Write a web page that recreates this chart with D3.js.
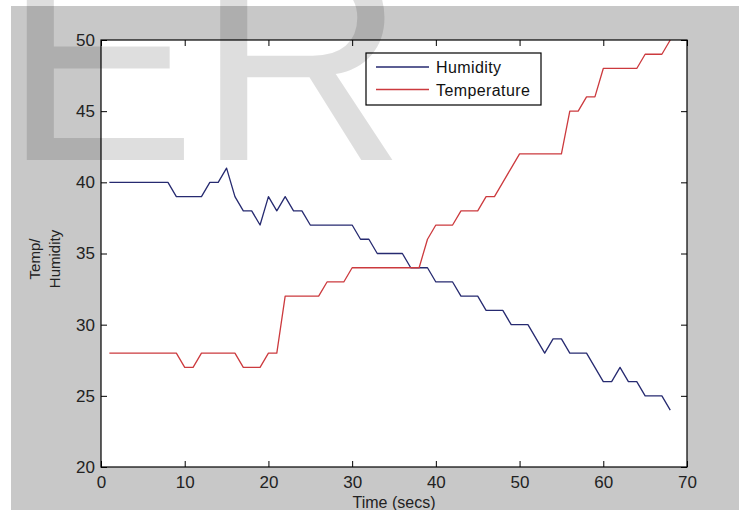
<!DOCTYPE html>
<html><head><meta charset="utf-8">
<script src="https://cdn.jsdelivr.net/npm/d3@7"></script>
<style>
html,body{margin:0;padding:0;background:#fff;}
svg{display:block;}
text{font-family:"Liberation Sans",Arial,sans-serif;}
</style></head>
<body>
<svg id="chart" width="743" height="510"></svg>
<script>
const timeSecs = [1,2,3,4,5,6,7,8,9,10,11,12,13,14,15,16,17,18,19,20,21,22,23,24,25,26,27,28,29,30,31,32,33,34,35,36,37,38,39,40,41,42,43,44,45,46,47,48,49,50,51,52,53,54,55,56,57,58,59,60,61,62,63,64,65,66,67,68];
const humidity = [40,40,40,40,40,40,40,40,39,39,39,39,40,40,41,39,38,38,37,39,38,39,38,38,37,37,37,37,37,37,36,36,35,35,35,35,34,34,34,33,33,33,32,32,32,31,31,31,30,30,30,29,28,29,29,28,28,28,27,26,26,27,26,26,25,25,25,24];
const temperature = [28,28,28,28,28,28,28,28,28,27,27,28,28,28,28,28,27,27,27,28,28,32,32,32,32,32,33,33,33,34,34,34,34,34,34,34,34,34,36,37,37,37,38,38,38,39,39,40,41,42,42,42,42,42,42,45,45,46,46,48,48,48,48,48,49,49,49,50];
const seriesNames = ["Humidity","Temperature"];
const seriesColors = ["#262a70","#cc3a3e"];
const xTicks = [0,10,20,30,40,50,60,70];
const yTicks = [20,25,30,35,40,45,50];
const xLabel = "Time (secs)";
const yLabelLines = ["Temp/","Humidity"];
const watermark = "ER";

const svg = d3.select("#chart");
const L = 101, R = 687, T = 40, B = 467;

// figure background
svg.append("rect").attr("x",11).attr("y",6).attr("width",728).attr("height",504).attr("fill","#c8c8c8");
// plot area
svg.append("rect").attr("x",L).attr("y",T).attr("width",R-L).attr("height",B-T).attr("fill","#fff");

const x = d3.scaleLinear().domain([0,70]).range([L,R]);
const y = d3.scaleLinear().domain([20,50]).range([B,T]);

const line = d3.line().x((d,i)=>x(timeSecs[i])).y(d=>y(d));
[humidity, temperature].forEach((s,k)=>{
  svg.append("path").datum(s).attr("d",line).attr("fill","none")
    .attr("stroke",seriesColors[k]).attr("stroke-width",1.3).attr("stroke-linejoin","round");
});

// axes (inward ticks, box)
const fs = 17;
const gx = svg.append("g").attr("transform",`translate(0,${B})`)
  .call(d3.axisBottom(x).tickValues(xTicks).tickSize(-6).tickPadding(9).tickFormat(d3.format("d")));
const gxt = svg.append("g").attr("transform",`translate(0,${T})`)
  .call(d3.axisTop(x).tickValues(xTicks).tickSize(-6).tickFormat(""));
const gy = svg.append("g").attr("transform",`translate(${L},0)`)
  .call(d3.axisLeft(y).tickValues(yTicks).tickSize(-6).tickPadding(6).tickFormat(d3.format("d")));
const gyr = svg.append("g").attr("transform",`translate(${R},0)`)
  .call(d3.axisRight(y).tickValues(yTicks).tickSize(-6).tickFormat(""));
[gx,gxt,gy,gyr].forEach(g=>{
  g.select(".domain").remove();
  g.selectAll(".tick line").attr("stroke","#000");
  g.selectAll(".tick text").attr("fill","#222").style("font-size",fs+"px").style("font-family","'Liberation Sans',Arial,sans-serif");
});
svg.append("rect").attr("x",L).attr("y",T).attr("width",R-L).attr("height",B-T)
  .attr("fill","none").attr("stroke","#000").attr("stroke-width",1.2);

// axis labels
svg.append("text").attr("x",(L+R)/2).attr("y",508).attr("text-anchor","middle")
  .attr("fill","#222").style("font-size","16px").text(xLabel);
const yl = svg.append("g").attr("transform","translate(0,259) rotate(-90)");
yLabelLines.forEach((t,i)=>{
  yl.append("text").attr("x",0).attr("y",40+i*20).attr("text-anchor","middle")
    .attr("fill","#222").style("font-size","15px").text(t);
});

// legend
const lg = svg.append("g");
lg.append("rect").attr("x",366).attr("y",53).attr("width",175).attr("height",52)
  .attr("fill","#fff").attr("stroke","#000").attr("stroke-width",1.2);
seriesNames.forEach((n,i)=>{
  const yy = 67 + i*22.5;
  lg.append("line").attr("x1",376).attr("x2",429).attr("y1",yy).attr("y2",yy)
    .attr("stroke",seriesColors[i]).attr("stroke-width",1.3);
  lg.append("text").attr("x",436).attr("y",yy+6).attr("fill","#111")
    .style("font-size","16px").style("letter-spacing","0.4px").text(n);
});

// watermark
svg.append("text").attr("x",3).attr("y",160).attr("fill","#000").attr("fill-opacity",0.13)
  .style("font-size","290px").text(watermark);
</script>
</body></html>
